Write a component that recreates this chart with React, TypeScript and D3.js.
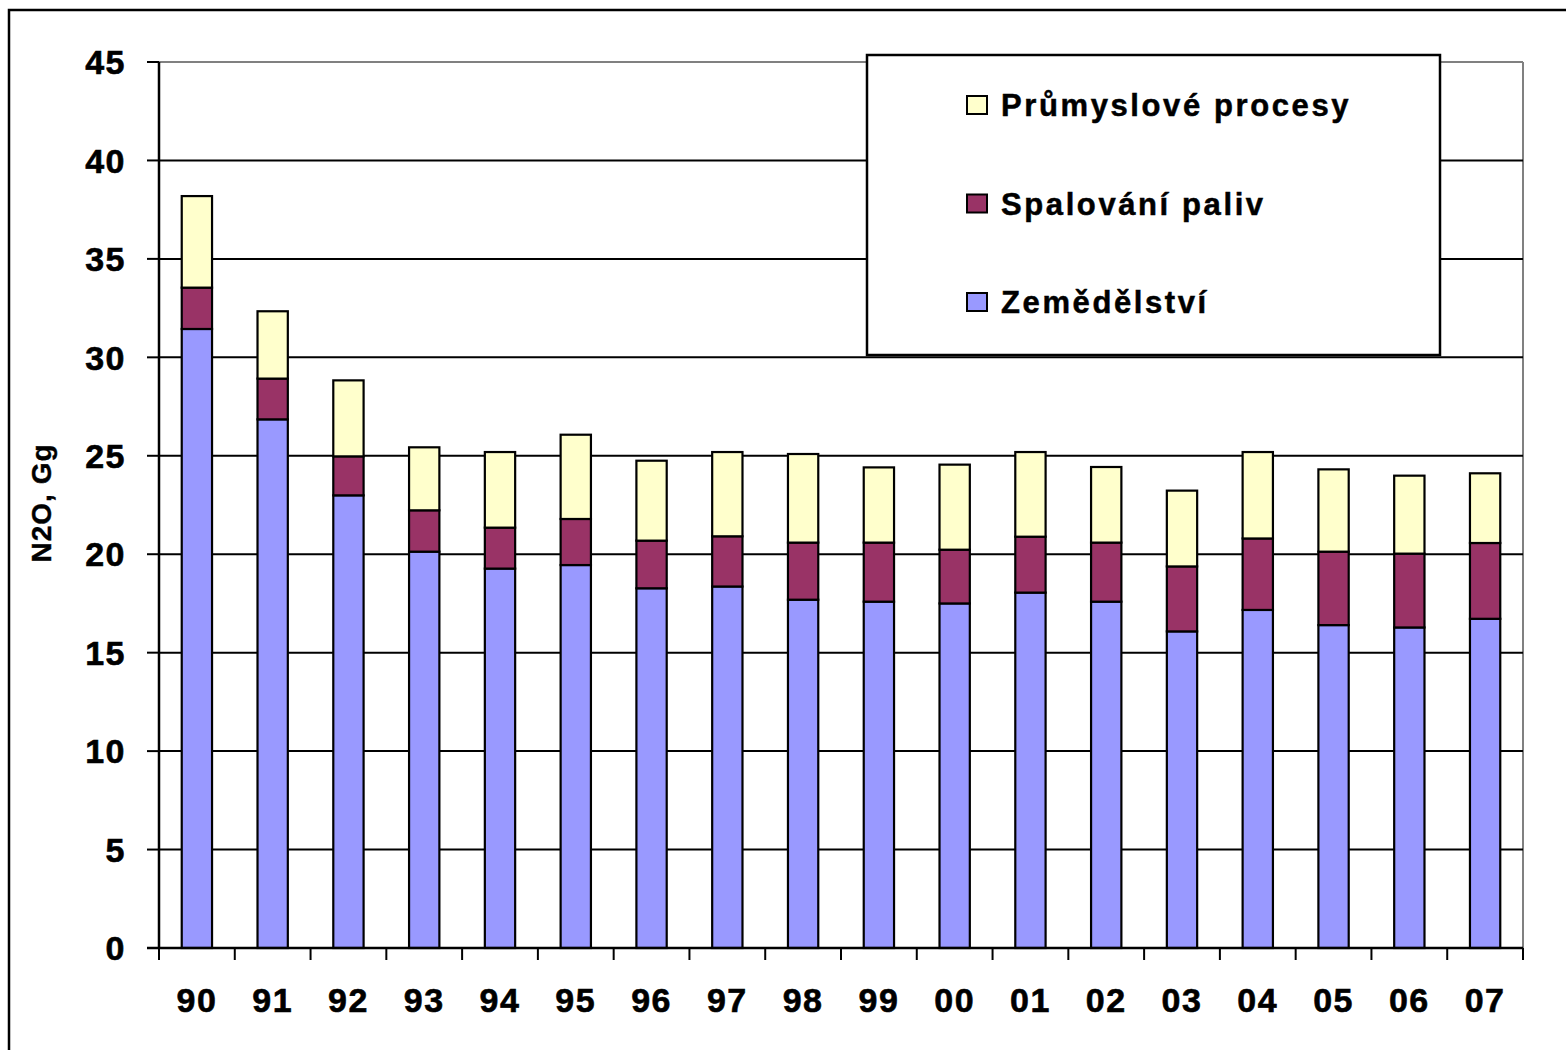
import React from "react";
import * as d3 from "d3";

const years = ["90", "91", "92", "93", "94", "95", "96", "97", "98", "99", "00", "01", "02", "03", "04", "05", "06", "07"];
const zemedelstvi = [31.44, 26.85, 22.99, 20.13, 19.27, 19.45, 18.27, 18.36, 17.69, 17.59, 17.5, 18.05, 17.59, 16.08, 17.17, 16.4, 16.28, 16.72];
const spalovani = [2.1, 2.07, 1.98, 2.1, 2.08, 2.34, 2.42, 2.55, 2.9, 3.0, 2.73, 2.84, 3.0, 3.3, 3.63, 3.73, 3.75, 3.85];
const prumysl = [4.65, 3.42, 3.86, 3.2, 3.84, 4.28, 4.06, 4.28, 4.5, 3.82, 4.32, 4.3, 3.84, 3.85, 4.39, 4.18, 3.96, 3.54];
const yTicks = [0, 5, 10, 15, 20, 25, 30, 35, 40, 45];

const seriesNames = ["Zemědělství", "Spalování paliv", "Průmyslové procesy"];
const seriesColors = ["#9999FF", "#993366", "#FFFFCC"];
const legendOrder = [2, 1, 0];

const W = 1566;
const H = 1050;
const left = 159;
const right = 1523;
const top = 62;
const bottom = 948;

export default function App() {
  const x = d3.scaleBand<string>().domain(years).range([left, right]).paddingInner(0.6).paddingOuter(0.3);
  const xb = d3.scaleBand<string>().domain(years).range([left, right]);
  const y = d3.scaleLinear().domain([0, 45]).range([bottom, top]);

  const rows = years.map((yr, i) => ({ yr, s0: zemedelstvi[i], s1: spalovani[i], s2: prumysl[i] }));
  const stack = d3.stack<any>().keys(["s0", "s1", "s2"]);
  const stacked = stack(rows);

  const bounds = years.map((yr) => xb(yr) as number).concat([right]);
  const textProps = { fontWeight: "bold", stroke: "#000", strokeWidth: 0.6 } as any;

  return (
    <svg width={W} height={H} style={{ position: "absolute", left: 0, top: 0, background: "#fff" }} fontFamily="'Liberation Sans', Arial, sans-serif">
      <rect x={9} y={10} width={W + 20} height={H + 20} fill="#fff" stroke="#000" strokeWidth={2.5} />
      {/* plot border */}
      <line x1={left} x2={right} y1={top} y2={top} stroke="#808080" strokeWidth={2} />
      <line x1={right} x2={right} y1={top} y2={bottom} stroke="#808080" strokeWidth={2} />
      {/* gridlines */}
      {yTicks.filter((t) => t > 0 && t < 45).map((t) => (
        <line key={t} x1={left} x2={right} y1={y(t)} y2={y(t)} stroke="#000" strokeWidth={2} />
      ))}
      {/* bars */}
      {stacked.map((layer, li) => (
        <g key={li}>
          {layer.map((d, i) => (
            <rect
              key={i}
              x={x(years[i])}
              width={x.bandwidth()}
              y={y(d[1])}
              height={y(d[0]) - y(d[1])}
              fill={seriesColors[li]}
              stroke="#000"
              strokeWidth={2.2}
            />
          ))}
        </g>
      ))}
      {/* y axis */}
      <line x1={left} x2={left} y1={top} y2={bottom} stroke="#000" strokeWidth={2.5} />
      {yTicks.map((t) => (
        <g key={t}>
          <line x1={147} x2={left} y1={y(t)} y2={y(t)} stroke="#000" strokeWidth={2} />
          <text x={126} y={y(t)} dy="0.36em" textAnchor="end" fontSize={34} letterSpacing={1.5} {...textProps}>
            {t}
          </text>
        </g>
      ))}
      {/* x axis */}
      <line x1={left - 12} x2={right} y1={bottom} y2={bottom} stroke="#000" strokeWidth={2.5} />
      {bounds.map((b, i) => (
        <line key={i} x1={b} x2={b} y1={bottom} y2={bottom + 12} stroke="#000" strokeWidth={2} />
      ))}
      {years.map((yr) => (
        <text key={yr} x={(xb(yr) as number) + xb.bandwidth() / 2} y={1012} textAnchor="middle" fontSize={34} letterSpacing={1.5} {...textProps}>
          {yr}
        </text>
      ))}
      {/* y title */}
      <text transform="translate(51,503) rotate(-90)" textAnchor="middle" fontSize={28} letterSpacing={1} {...textProps} strokeWidth={0.4}>
        N2O, Gg
      </text>
      {/* legend */}
      <rect x={867} y={55} width={573} height={300} fill="#fff" stroke="#000" strokeWidth={2.5} />
      {legendOrder.map((si, k) => {
        const cy = 105 + k * 98.5;
        return (
          <g key={si}>
            <rect x={967} y={cy - 9} width={20} height={18} fill={seriesColors[si]} stroke="#000" strokeWidth={2} />
            <text x={1001} y={cy} dy="0.36em" fontSize={31} letterSpacing={2.6} {...textProps} strokeWidth={0.5}>
              {seriesNames[si]}
            </text>
          </g>
        );
      })}
    </svg>
  );
}
